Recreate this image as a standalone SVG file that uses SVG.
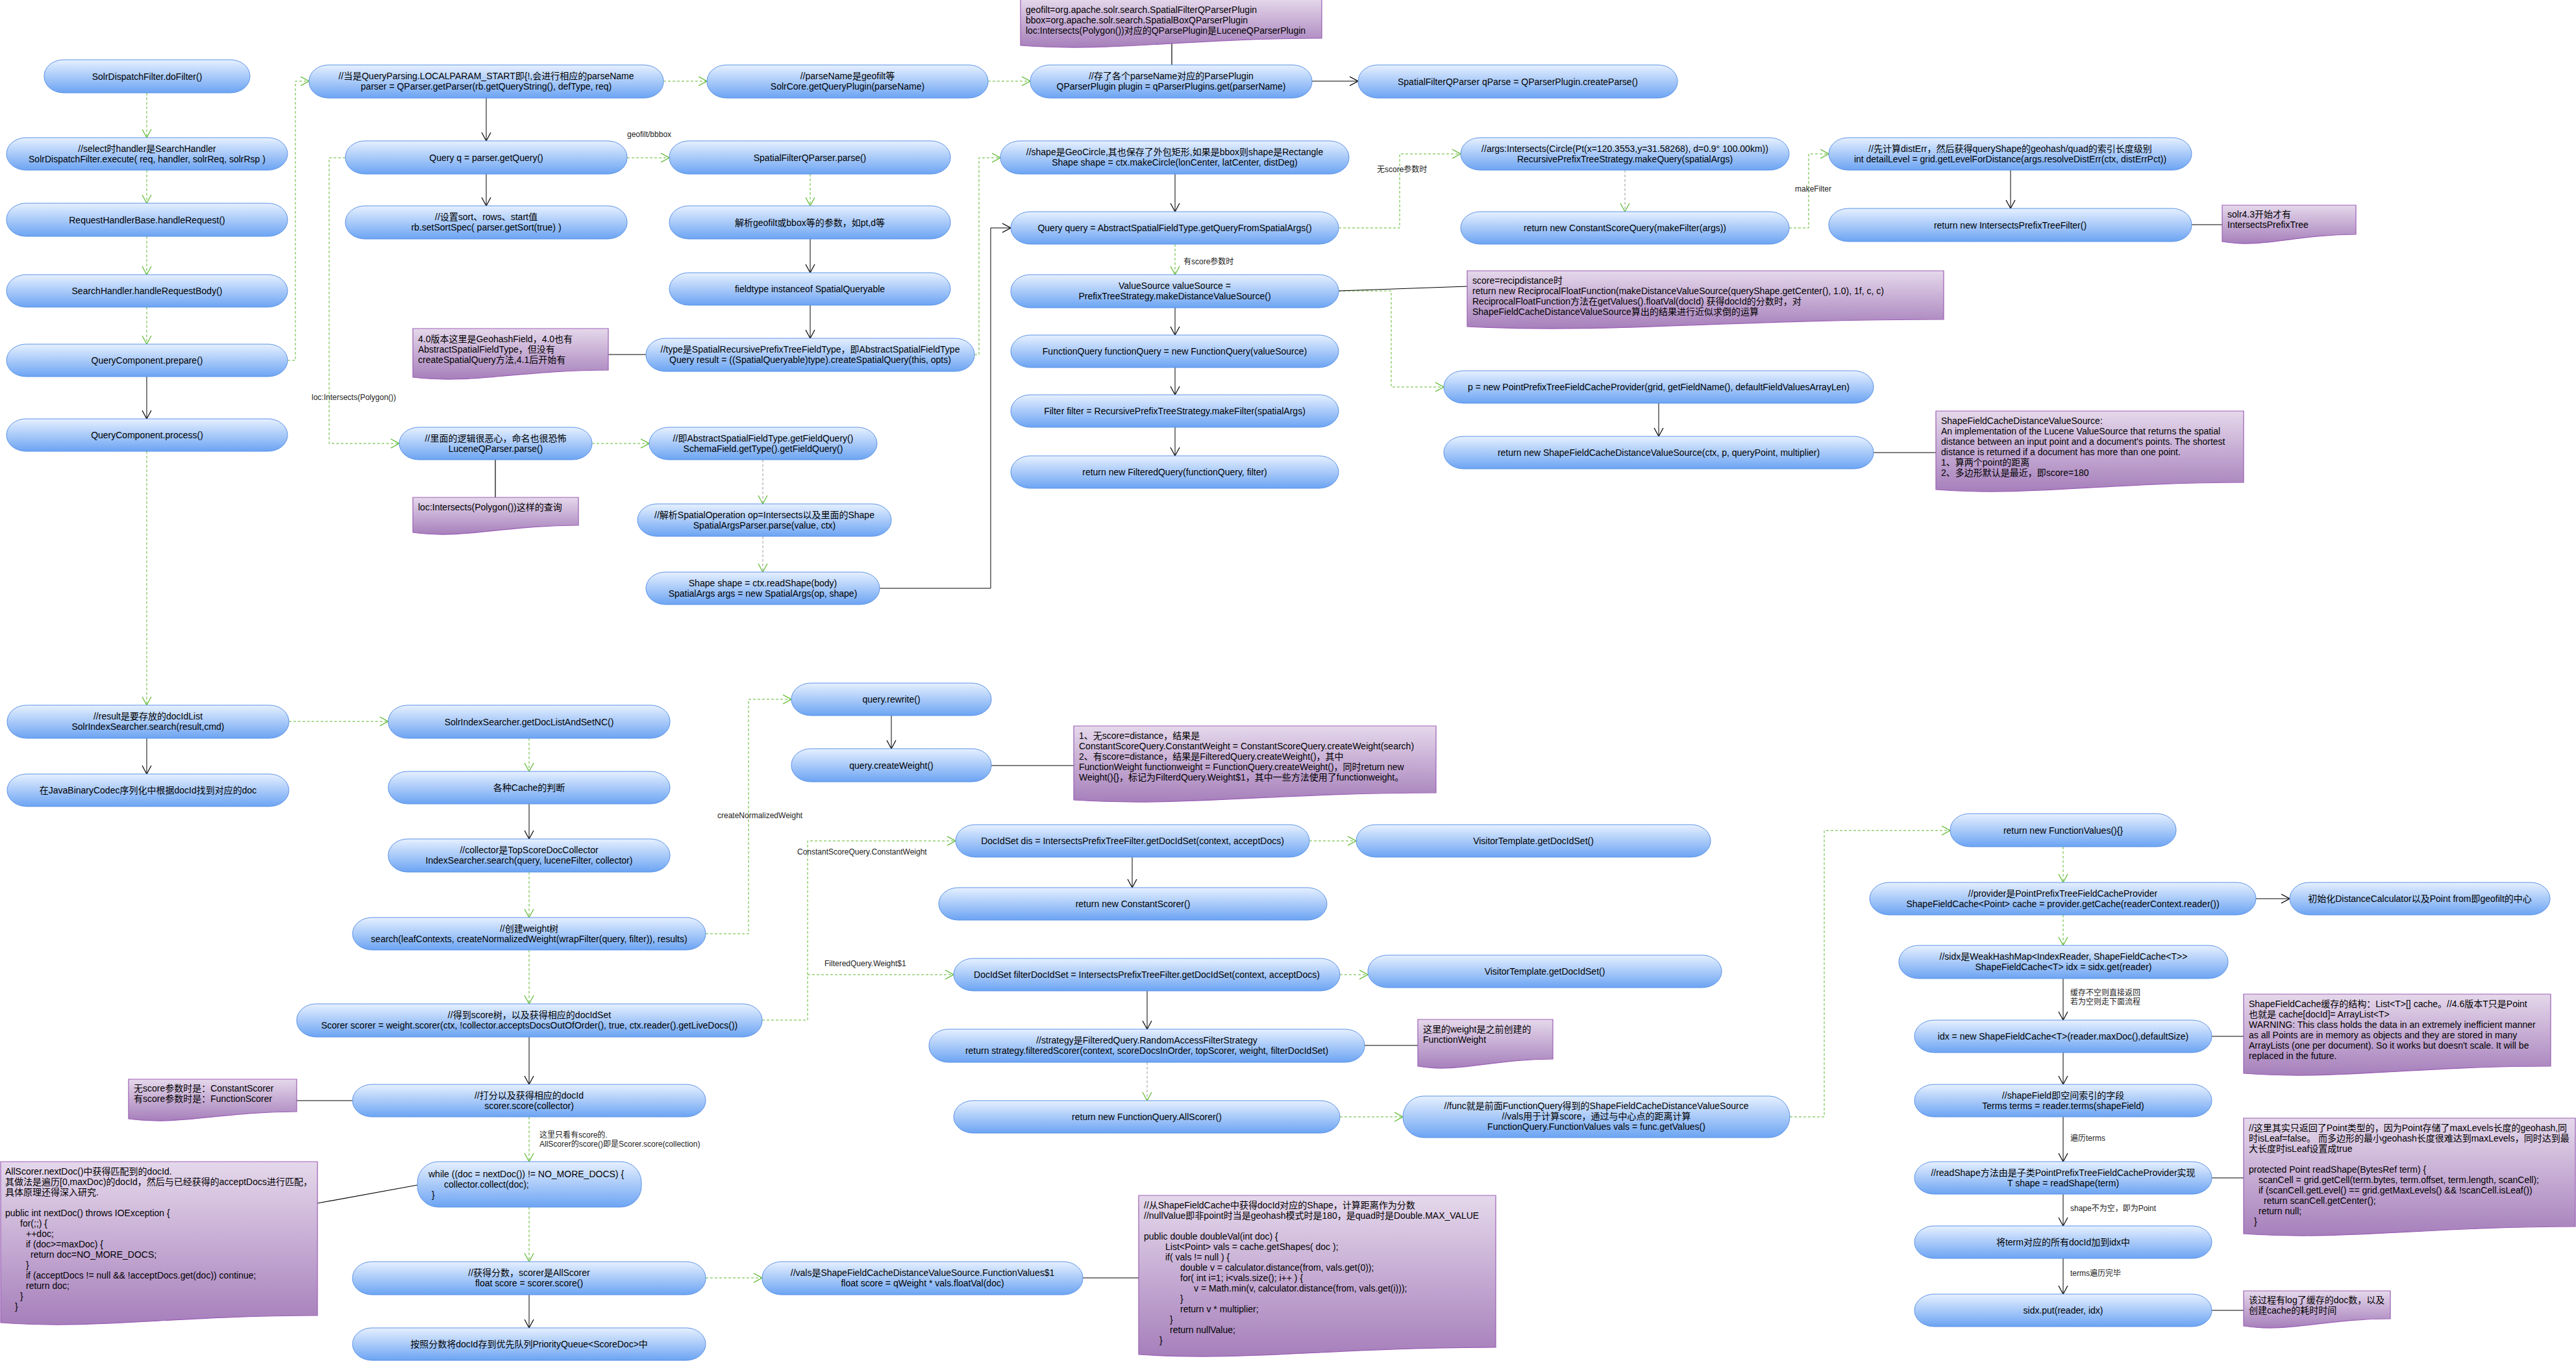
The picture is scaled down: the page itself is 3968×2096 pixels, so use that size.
<svg xmlns="http://www.w3.org/2000/svg" width="3968" height="2096" viewBox="0 0 3968 2096">
<defs>
<linearGradient id="gn" x1="0" y1="0" x2="0" y2="1"><stop offset="0" stop-color="#e6f0ff"/><stop offset="1" stop-color="#6ca4f3"/></linearGradient>
<linearGradient id="gm" x1="0" y1="0" x2="0" y2="1"><stop offset="0" stop-color="#e5d8eb"/><stop offset="1" stop-color="#a67fbb"/></linearGradient>
<marker id="ag" viewBox="0 0 14 16" refX="13" refY="8" markerWidth="14" markerHeight="16" orient="auto" markerUnits="userSpaceOnUse"><path d="M0,1 L13,8 L0,15" fill="none" stroke="#5cb82c" stroke-width="1.2"/></marker>
<marker id="ab" viewBox="0 0 14 16" refX="13" refY="8" markerWidth="14" markerHeight="16" orient="auto" markerUnits="userSpaceOnUse"><path d="M0,1 L13,8 L0,15" fill="none" stroke="#000" stroke-width="1.2"/></marker>
<style>
.n{fill:url(#gn);stroke:#5b92e6;stroke-width:1}
.m{fill:url(#gm);stroke:#9b5fb5;stroke-width:1.2}
text{font-family:"Liberation Sans","Noto Sans CJK SC",sans-serif;font-size:14px;fill:#000}
.c{text-anchor:middle}
.lbl{font-size:12px;fill:#222}
.g{fill:none;stroke:#5cb82c;stroke-width:1;stroke-dasharray:4 3;marker-end:url(#ag)}
.gr{fill:none;stroke:#999;stroke-width:1;stroke-dasharray:4 3;marker-end:url(#ag)}
.b{fill:none;stroke:#000;stroke-width:1;marker-end:url(#ab)}
.l{fill:none;stroke:#000;stroke-width:1.2}
</style>
</defs>
<rect width="3968" height="2096" fill="#fff"/>

<g id="connectors">
<path class="g" d="M226,143 V212"/>
<path class="g" d="M226,262 V313"/>
<path class="g" d="M226,364 V423"/>
<path class="g" d="M226,473 V530"/>
<path class="g" d="M443,555 H455 V125 H476"/>
<path class="g" d="M226,695 V1086"/>
<path class="g" d="M532,243 H507 V683 H615"/>
<path class="g" d="M1022,125 H1089"/>
<path class="g" d="M1522,125 H1587"/>
<path class="g" d="M966,243 H1031"/>
<path class="g" d="M1248,268 V317"/>
<path class="g" d="M1501,546 H1508 V243 H1541"/>
<path class="g" d="M912,683 H1000"/>
<path class="g" d="M1810,376 V423"/>
<path class="g" d="M2062,351 H2156 V237 H2250"/>
<path class="g" d="M2756,351 H2786 V237 H2817"/>
<path class="g" d="M2062,448 H2143 V596 H2224"/>
<path class="g" d="M445,1111 H598"/>
<path class="g" d="M815,1137 V1188"/>
<path class="g" d="M815,1343 V1413"/>
<path class="g" d="M815,1463 V1546"/>
<path class="g" d="M815,1720 V1789"/>
<path class="g" d="M815,1859 V1943"/>
<path class="g" d="M1087,1438 H1153 V1077 H1219"/>
<path class="g" d="M1174,1571 H1244 V1295 H1472"/>
<path class="g" d="M1244,1501 H1469"/>
<path class="g" d="M2017,1295 H2089"/>
<path class="g" d="M2064,1501 H2107"/>
<path class="g" d="M2064,1720 H2161"/>
<path class="g" d="M2757,1720 H2810 V1279 H3004"/>
<path class="g" d="M1087,1968 H1174"/>
<path class="g" d="M3178,1304 V1359"/>
<path class="g" d="M3178,1409 V1456"/>
<path class="gr" d="M1175,708 V776"/>
<path class="gr" d="M1175,826 V881"/>
<path class="gr" d="M2503,262 V326"/>
<path class="gr" d="M1767,1636 V1695"/>
<path class="b" d="M226,580 V645"/>
<path class="b" d="M749,151 V217"/>
<path class="b" d="M749,268 V317"/>
<path class="b" d="M2021,125 H2092"/>
<path class="b" d="M1248,368 V420"/>
<path class="b" d="M1248,470 V521"/>
<path class="b" d="M1810,268 V326"/>
<path class="b" d="M1355,906 H1526 V351 H1557"/>
<path class="b" d="M1810,474 V516"/>
<path class="b" d="M1810,566 V608"/>
<path class="b" d="M1810,658 V702"/>
<path class="b" d="M3097,262 V321"/>
<path class="b" d="M2555,621 V672"/>
<path class="b" d="M226,1137 V1192"/>
<path class="b" d="M815,1238 V1292"/>
<path class="b" d="M815,1597 V1670"/>
<path class="b" d="M815,1994 V2045"/>
<path class="b" d="M1373,1102 V1153"/>
<path class="b" d="M1744,1320 V1367"/>
<path class="b" d="M1767,1526 V1585"/>
<path class="b" d="M3475,1384 H3527"/>
<path class="b" d="M3178,1507 V1571"/>
<path class="b" d="M3178,1621 V1670"/>
<path class="b" d="M3178,1720 V1789"/>
<path class="b" d="M3178,1839 V1888"/>
<path class="b" d="M3178,1938 V1993"/>
<path class="l" d="M1805,66 V100"/>
<path class="l" d="M937,546 H995"/>
<path class="l" d="M763,708 V766"/>
<path class="l" d="M2062,448 L2260,441"/>
<path class="l" d="M3376,346 H3423"/>
<path class="l" d="M2886,697 H2982"/>
<path class="l" d="M1527,1179 H1654"/>
<path class="l" d="M457,1695 H543"/>
<path class="l" d="M489,1853 L643,1825"/>
<path class="l" d="M2102,1610 H2184"/>
<path class="l" d="M1668,1968 H1754"/>
<path class="l" d="M3407,1596 H3456"/>
<path class="l" d="M3407,1814 H3456"/>
<path class="l" d="M3407,2018 H3456"/>
</g>

<g id="edge-labels">
<text class="lbl" x="966" y="211">geofilt/bbbox</text>
<text class="lbl" x="480" y="616">loc:Intersects(Polygon())</text>
<text class="lbl" x="1823" y="407">有score参数时</text>
<text class="lbl" x="2121" y="265">无score参数时</text>
<text class="lbl" x="2765" y="295">makeFilter</text>
<text class="lbl" x="1105" y="1260">createNormalizedWeight</text>
<text class="lbl" x="1228" y="1316">ConstantScoreQuery.ConstantWeight</text>
<text class="lbl" x="1270" y="1488">FilteredQuery.Weight$1</text>
<text class="lbl" x="831" y="1752">这里只看有score的.</text>
<text class="lbl" x="831" y="1766">AllScorer的score()即是Scorer.score(collection)</text>
<text class="lbl" x="3189" y="1533">缓存不空则直接返回</text>
<text class="lbl" x="3189" y="1547">若为空则走下面流程</text>
<text class="lbl" x="3189" y="1757">遍历terms</text>
<text class="lbl" x="3189" y="1865">shape不为空，即为Point</text>
<text class="lbl" x="3189" y="1965">terms遍历完毕</text>
</g>

<g id="n1"><rect class="n" x="68" y="92" width="317" height="51" rx="30" ry="25"/><text class="c" x="226.5" y="123">SolrDispatchFilter.doFilter()</text></g>
<g id="n2"><rect class="n" x="10" y="212" width="433" height="50" rx="30" ry="25"/><text class="c" x="226.5" y="234">//select时handler是SearchHandler</text><text class="c" x="226.5" y="250">SolrDispatchFilter.execute( req, handler, solrReq, solrRsp )</text></g>
<g id="n3"><rect class="n" x="10" y="313" width="433" height="51" rx="30" ry="25"/><text class="c" x="226.5" y="344">RequestHandlerBase.handleRequest()</text></g>
<g id="n4"><rect class="n" x="10" y="423" width="433" height="50" rx="30" ry="25"/><text class="c" x="226.5" y="453">SearchHandler.handleRequestBody()</text></g>
<g id="n5"><rect class="n" x="10" y="530" width="433" height="50" rx="30" ry="25"/><text class="c" x="226.5" y="560">QueryComponent.prepare()</text></g>
<g id="n6"><rect class="n" x="10" y="645" width="433" height="50" rx="30" ry="25"/><text class="c" x="226.5" y="675">QueryComponent.process()</text></g>
<g id="n7"><rect class="n" x="476" y="100" width="546" height="51" rx="30" ry="25"/><text class="c" x="749" y="122">//当是QueryParsing.LOCALPARAM_START即{!,会进行相应的parseName</text><text class="c" x="749" y="138">parser = QParser.getParser(rb.getQueryString(), defType, req)</text></g>
<g id="n8"><rect class="n" x="532" y="217" width="434" height="51" rx="30" ry="25"/><text class="c" x="749" y="248">Query q = parser.getQuery()</text></g>
<g id="n9"><rect class="n" x="532" y="317" width="434" height="51" rx="30" ry="25"/><text class="c" x="749" y="339">//设置sort、rows、start值</text><text class="c" x="749" y="355">rb.setSortSpec( parser.getSort(true) )</text></g>
<g id="n10"><rect class="n" x="1089" y="100" width="433" height="51" rx="30" ry="25"/><text class="c" x="1305.5" y="122">//parseName是geofilt等</text><text class="c" x="1305.5" y="138">SolrCore.getQueryPlugin(parseName)</text></g>
<g id="n11"><rect class="n" x="1587" y="100" width="434" height="51" rx="30" ry="25"/><text class="c" x="1804" y="122">//存了各个parseName对应的ParsePlugin</text><text class="c" x="1804" y="138">QParserPlugin plugin = qParserPlugins.get(parserName)</text></g>
<g id="n12"><rect class="n" x="2092" y="100" width="492" height="51" rx="30" ry="25"/><text class="c" x="2338" y="131">SpatialFilterQParser qParse = QParserPlugin.createParse()</text></g>
<g id="n13"><rect class="n" x="1031" y="217" width="433" height="51" rx="30" ry="25"/><text class="c" x="1247.5" y="248">SpatialFilterQParser.parse()</text></g>
<g id="n14"><rect class="n" x="1031" y="317" width="433" height="51" rx="30" ry="25"/><text class="c" x="1247.5" y="348">解析geofilt或bbox等的参数，如pt,d等</text></g>
<g id="n15"><rect class="n" x="1031" y="420" width="433" height="50" rx="30" ry="25"/><text class="c" x="1247.5" y="450">fieldtype instanceof SpatialQueryable</text></g>
<g id="n16"><rect class="n" x="995" y="521" width="506" height="51" rx="30" ry="25"/><text class="c" x="1248" y="543">//type是SpatialRecursivePrefixTreeFieldType，即AbstractSpatialFieldType</text><text class="c" x="1248" y="559">Query result = ((SpatialQueryable)type).createSpatialQuery(this, opts)</text></g>
<g id="n17"><rect class="n" x="615" y="658" width="297" height="50" rx="30" ry="25"/><text class="c" x="763.5" y="680">//里面的逻辑很恶心，命名也很恐怖</text><text class="c" x="763.5" y="696">LuceneQParser.parse()</text></g>
<g id="n18"><rect class="n" x="1000" y="658" width="351" height="50" rx="30" ry="25"/><text class="c" x="1175.5" y="680">//即AbstractSpatialFieldType.getFieldQuery()</text><text class="c" x="1175.5" y="696">SchemaField.getType().getFieldQuery()</text></g>
<g id="n19"><rect class="n" x="982" y="776" width="391" height="50" rx="30" ry="25"/><text class="c" x="1177.5" y="798">//解析SpatialOperation op=Intersects以及里面的Shape</text><text class="c" x="1177.5" y="814">SpatialArgsParser.parse(value, ctx)</text></g>
<g id="n20"><rect class="n" x="995" y="881" width="360" height="50" rx="30" ry="25"/><text class="c" x="1175" y="903">Shape shape = ctx.readShape(body)</text><text class="c" x="1175" y="919">SpatialArgs args = new SpatialArgs(op, shape)</text></g>
<g id="n21"><rect class="n" x="1541" y="217" width="537" height="51" rx="30" ry="25"/><text class="c" x="1809.5" y="239">//shape是GeoCircle,其也保存了外包矩形,如果是bbox则shape是Rectangle</text><text class="c" x="1809.5" y="255">Shape shape = ctx.makeCircle(lonCenter, latCenter, distDeg)</text></g>
<g id="n22"><rect class="n" x="1557" y="326" width="505" height="50" rx="30" ry="25"/><text class="c" x="1809.5" y="356">Query query = AbstractSpatialFieldType.getQueryFromSpatialArgs()</text></g>
<g id="n23"><rect class="n" x="1557" y="423" width="505" height="51" rx="30" ry="25"/><text class="c" x="1809.5" y="445">ValueSource valueSource =</text><text class="c" x="1809.5" y="461">PrefixTreeStrategy.makeDistanceValueSource()</text></g>
<g id="n24"><rect class="n" x="1557" y="516" width="505" height="50" rx="30" ry="25"/><text class="c" x="1809.5" y="546">FunctionQuery functionQuery = new FunctionQuery(valueSource)</text></g>
<g id="n25"><rect class="n" x="1557" y="608" width="505" height="50" rx="30" ry="25"/><text class="c" x="1809.5" y="638">Filter filter = RecursivePrefixTreeStrategy.makeFilter(spatialArgs)</text></g>
<g id="n26"><rect class="n" x="1557" y="702" width="505" height="50" rx="30" ry="25"/><text class="c" x="1809.5" y="732">return new FilteredQuery(functionQuery, filter)</text></g>
<g id="n27"><rect class="n" x="2250" y="212" width="506" height="50" rx="30" ry="25"/><text class="c" x="2503" y="234">//args:Intersects(Circle(Pt(x=120.3553,y=31.58268), d=0.9° 100.00km))</text><text class="c" x="2503" y="250">RecursivePrefixTreeStrategy.makeQuery(spatialArgs)</text></g>
<g id="n28"><rect class="n" x="2250" y="326" width="506" height="50" rx="30" ry="25"/><text class="c" x="2503" y="356">return new ConstantScoreQuery(makeFilter(args))</text></g>
<g id="n29"><rect class="n" x="2817" y="212" width="559" height="50" rx="30" ry="25"/><text class="c" x="3096.5" y="234">//先计算distErr，然后获得queryShape的geohash/quad的索引长度级别</text><text class="c" x="3096.5" y="250">int detailLevel = grid.getLevelForDistance(args.resolveDistErr(ctx, distErrPct))</text></g>
<g id="n30"><rect class="n" x="2817" y="321" width="559" height="51" rx="30" ry="25"/><text class="c" x="3096.5" y="352">return new IntersectsPrefixTreeFilter()</text></g>
<g id="n31"><rect class="n" x="2224" y="571" width="662" height="50" rx="30" ry="25"/><text class="c" x="2555" y="601">p = new PointPrefixTreeFieldCacheProvider(grid, getFieldName(), defaultFieldValuesArrayLen)</text></g>
<g id="n32"><rect class="n" x="2224" y="672" width="662" height="50" rx="30" ry="25"/><text class="c" x="2555" y="702">return new ShapeFieldCacheDistanceValueSource(ctx, p, queryPoint, multiplier)</text></g>
<g id="n33"><rect class="n" x="11" y="1086" width="434" height="51" rx="30" ry="25"/><text class="c" x="228" y="1108">//result是要存放的docIdList</text><text class="c" x="228" y="1124">SolrIndexSearcher.search(result,cmd)</text></g>
<g id="n34"><rect class="n" x="11" y="1192" width="434" height="50" rx="30" ry="25"/><text class="c" x="228" y="1222">在JavaBinaryCodec序列化中根据docId找到对应的doc</text></g>
<g id="n35"><rect class="n" x="598" y="1086" width="434" height="51" rx="30" ry="25"/><text class="c" x="815" y="1117">SolrIndexSearcher.getDocListAndSetNC()</text></g>
<g id="n36"><rect class="n" x="598" y="1188" width="434" height="50" rx="30" ry="25"/><text class="c" x="815" y="1218">各种Cache的判断</text></g>
<g id="n37"><rect class="n" x="598" y="1292" width="434" height="51" rx="30" ry="25"/><text class="c" x="815" y="1314">//collector是TopScoreDocCollector</text><text class="c" x="815" y="1330">IndexSearcher.search(query, luceneFilter, collector)</text></g>
<g id="n38"><rect class="n" x="543" y="1413" width="544" height="50" rx="30" ry="25"/><text class="c" x="815" y="1435">//创建weight树</text><text class="c" x="815" y="1451">search(leafContexts, createNormalizedWeight(wrapFilter(query, filter)), results)</text></g>
<g id="n39"><rect class="n" x="457" y="1546" width="717" height="51" rx="30" ry="25"/><text class="c" x="815.5" y="1568">//得到score树，以及获得相应的docIdSet</text><text class="c" x="815.5" y="1584">Scorer scorer = weight.scorer(ctx, !collector.acceptsDocsOutOfOrder(), true, ctx.reader().getLiveDocs())</text></g>
<g id="n40"><rect class="n" x="543" y="1670" width="544" height="50" rx="30" ry="25"/><text class="c" x="815" y="1692">//打分以及获得相应的docId</text><text class="c" x="815" y="1708">scorer.score(collector)</text></g>
<g id="n41"><rect class="n" x="643" y="1789" width="345" height="70" rx="32" ry="32"/><text x="660" y="1813">while ((doc = nextDoc()) != NO_MORE_DOCS) {</text><text x="684" y="1829">collector.collect(doc);</text><text x="665" y="1845">}</text></g>
<g id="n42"><rect class="n" x="543" y="1943" width="544" height="51" rx="30" ry="25"/><text class="c" x="815" y="1965">//获得分数，scorer是AllScorer</text><text class="c" x="815" y="1981">float score = scorer.score()</text></g>
<g id="n43"><rect class="n" x="543" y="2045" width="544" height="50" rx="30" ry="25"/><text class="c" x="815" y="2075">按照分数将docId存到优先队列PriorityQueue&lt;ScoreDoc&gt;中</text></g>
<g id="n44"><rect class="n" x="1219" y="1052" width="308" height="50" rx="30" ry="25"/><text class="c" x="1373" y="1082">query.rewrite()</text></g>
<g id="n45"><rect class="n" x="1219" y="1153" width="308" height="51" rx="30" ry="25"/><text class="c" x="1373" y="1184">query.createWeight()</text></g>
<g id="n46"><rect class="n" x="1472" y="1270" width="545" height="50" rx="30" ry="25"/><text class="c" x="1744.5" y="1300">DocIdSet dis = IntersectsPrefixTreeFilter.getDocIdSet(context, acceptDocs)</text></g>
<g id="n47"><rect class="n" x="1446" y="1367" width="598" height="50" rx="30" ry="25"/><text class="c" x="1745" y="1397">return new ConstantScorer()</text></g>
<g id="n48"><rect class="n" x="2089" y="1270" width="546" height="50" rx="30" ry="25"/><text class="c" x="2362" y="1300">VisitorTemplate.getDocIdSet()</text></g>
<g id="n49"><rect class="n" x="1469" y="1476" width="595" height="50" rx="30" ry="25"/><text class="c" x="1766.5" y="1506">DocIdSet filterDocIdSet = IntersectsPrefixTreeFilter.getDocIdSet(context, acceptDocs)</text></g>
<g id="n50"><rect class="n" x="1431" y="1585" width="671" height="51" rx="30" ry="25"/><text class="c" x="1766.5" y="1607">//strategy是FilteredQuery.RandomAccessFilterStrategy</text><text class="c" x="1766.5" y="1623">return strategy.filteredScorer(context, scoreDocsInOrder, topScorer, weight, filterDocIdSet)</text></g>
<g id="n51"><rect class="n" x="1469" y="1695" width="595" height="50" rx="30" ry="25"/><text class="c" x="1766.5" y="1725">return new FunctionQuery.AllScorer()</text></g>
<g id="n52"><rect class="n" x="2107" y="1471" width="545" height="50" rx="30" ry="25"/><text class="c" x="2379.5" y="1501">VisitorTemplate.getDocIdSet()</text></g>
<g id="n53"><rect class="n" x="2161" y="1688" width="596" height="64" rx="32" ry="32"/><text class="c" x="2459" y="1708">//func就是前面FunctionQuery得到的ShapeFieldCacheDistanceValueSource</text><text class="c" x="2459" y="1724">//vals用于计算score，通过与中心点的距离计算</text><text class="c" x="2459" y="1740">FunctionQuery.FunctionValues vals = func.getValues()</text></g>
<g id="n54"><rect class="n" x="1174" y="1943" width="494" height="51" rx="30" ry="25"/><text class="c" x="1421" y="1965">//vals是ShapeFieldCacheDistanceValueSource.FunctionValues$1</text><text class="c" x="1421" y="1981">float score = qWeight * vals.floatVal(doc)</text></g>
<g id="n55"><rect class="n" x="3004" y="1253" width="348" height="51" rx="30" ry="25"/><text class="c" x="3178" y="1284">return new FunctionValues(){}</text></g>
<g id="n56"><rect class="n" x="2880" y="1359" width="595" height="50" rx="30" ry="25"/><text class="c" x="3177.5" y="1381">//provider是PointPrefixTreeFieldCacheProvider</text><text class="c" x="3177.5" y="1397">ShapeFieldCache&lt;Point&gt; cache = provider.getCache(readerContext.reader())</text></g>
<g id="n57"><rect class="n" x="3527" y="1359" width="401" height="50" rx="30" ry="25"/><text class="c" x="3727.5" y="1389">初始化DistanceCalculator以及Point from即geofilt的中心</text></g>
<g id="n58"><rect class="n" x="2925" y="1456" width="507" height="51" rx="30" ry="25"/><text class="c" x="3178.5" y="1478">//sidx是WeakHashMap&lt;IndexReader, ShapeFieldCache&lt;T&gt;&gt;</text><text class="c" x="3178.5" y="1494">ShapeFieldCache&lt;T&gt; idx = sidx.get(reader)</text></g>
<g id="n59"><rect class="n" x="2949" y="1571" width="458" height="50" rx="30" ry="25"/><text class="c" x="3178" y="1601">idx = new ShapeFieldCache&lt;T&gt;(reader.maxDoc(),defaultSize)</text></g>
<g id="n60"><rect class="n" x="2949" y="1670" width="458" height="50" rx="30" ry="25"/><text class="c" x="3178" y="1692">//shapeField即空间索引的字段</text><text class="c" x="3178" y="1708">Terms terms = reader.terms(shapeField)</text></g>
<g id="n61"><rect class="n" x="2949" y="1789" width="458" height="50" rx="30" ry="25"/><text class="c" x="3178" y="1811">//readShape方法由是子类PointPrefixTreeFieldCacheProvider实现</text><text class="c" x="3178" y="1827">T shape = readShape(term)</text></g>
<g id="n62"><rect class="n" x="2949" y="1888" width="458" height="50" rx="30" ry="25"/><text class="c" x="3178" y="1918">将term对应的所有docId加到idx中</text></g>
<g id="n63"><rect class="n" x="2949" y="1993" width="458" height="50" rx="30" ry="25"/><text class="c" x="3178" y="2023">sidx.put(reader, idx)</text></g>

<g id="m1"><path class="m" d="M1572,-2 H2036 V59 C1827,59 1711,81 1572,70 Z"/><text x="1580" y="20">geofilt=org.apache.solr.search.SpatialFilterQParserPlugin</text><text x="1580" y="36">bbox=org.apache.solr.search.SpatialBoxQParserPlugin</text><text x="1580" y="52">loc:Intersects(Polygon())对应的QParsePlugin是LuceneQParserPlugin</text></g>
<g id="m2"><path class="m" d="M636,506 H937 V570 C802,570 726,592 636,581 Z"/><text x="644" y="527">4.0版本这里是GeohashField，4.0也有</text><text x="644" y="543">AbstractSpatialFieldType，但没有</text><text x="644" y="559">createSpatialQuery方法,4.1后开始有</text></g>
<g id="m3"><path class="m" d="M636,766 H891 V809 C776,809 713,831 636,820 Z"/><text x="644" y="786">loc:Intersects(Polygon())这样的查询</text></g>
<g id="m4"><path class="m" d="M2260,417 H2994 V492 C2664,492 2480,514 2260,503 Z"/><text x="2268" y="437">score=recipdistance时</text><text x="2268" y="453">return new ReciprocalFloatFunction(makeDistanceValueSource(queryShape.getCenter(), 1.0), 1f, c, c)</text><text x="2268" y="469">ReciprocalFloatFunction方法在getValues().floatVal(docId) 获得docId的分数时，对</text><text x="2268" y="485">ShapeFieldCacheDistanceValueSource算出的结果进行近似求倒的运算</text></g>
<g id="m5"><path class="m" d="M3423,316 H3629 V361 C3536,361 3485,383 3423,372 Z"/><text x="3431" y="335">solr4.3开始才有</text><text x="3431" y="351">IntersectsPrefixTree</text></g>
<g id="m6"><path class="m" d="M2982,633 H3456 V743 C3243,743 3124,765 2982,754 Z"/><text x="2990" y="653">ShapeFieldCacheDistanceValueSource:</text><text x="2990" y="669">An implementation of the Lucene ValueSource that returns the spatial</text><text x="2990" y="685">distance between an input point and a document's points. The shortest</text><text x="2990" y="701">distance is returned if a document has more than one point.</text><text x="2990" y="717">1、算两个point的距离</text><text x="2990" y="733">2、多边形默认是最近，即score=180</text></g>
<g id="m7"><path class="m" d="M1654,1118 H2212 V1221 C1961,1221 1821,1243 1654,1232 Z"/><text x="1662" y="1138">1、无score=distance，结果是</text><text x="1662" y="1154">ConstantScoreQuery.ConstantWeight = ConstantScoreQuery.createWeight(search)</text><text x="1662" y="1170">2、有score=distance，结果是FilteredQuery.createWeight()，其中</text><text x="1662" y="1186">FunctionWeight functionweight = FunctionQuery.createWeight()，同时return new</text><text x="1662" y="1202">Weight(){}，标记为FilterdQuery.Weight$1，其中一些方法使用了functionweight。</text></g>
<g id="m8"><path class="m" d="M198,1662 H457 V1712 C340,1712 276,1734 198,1723 Z"/><text x="206" y="1681">无score参数时是：ConstantScorer</text><text x="206" y="1697">有score参数时是：FunctionScorer</text></g>
<g id="m9"><path class="m" d="M1,1789 H489 V2026 C269,2026 147,2048 1,2037 Z"/><text x="8" y="1809">AllScorer.nextDoc()中获得匹配到的docId.</text><text x="8" y="1825">其做法是遍历[0,maxDoc)的docId，然后与已经获得的acceptDocs进行匹配，</text><text x="8" y="1841">具体原理还得深入研究.</text><text x="8" y="1873">public int nextDoc() throws IOException {</text><text x="31" y="1889">for(;;) {</text><text x="40" y="1905">++doc;</text><text x="40" y="1921">if (doc&gt;=maxDoc) {</text><text x="47" y="1937">return doc=NO_MORE_DOCS;</text><text x="40" y="1953">}</text><text x="40" y="1969">if (acceptDocs != null &amp;&amp; !acceptDocs.get(doc)) continue;</text><text x="40" y="1985">return doc;</text><text x="31" y="2001">}</text><text x="23" y="2017">}</text></g>
<g id="m10"><path class="m" d="M2184,1570 H2392 V1631 C2298,1631 2246,1653 2184,1642 Z"/><text x="2192" y="1590">这里的weight是之前创建的</text><text x="2192" y="1606">FunctionWeight</text></g>
<g id="m11"><path class="m" d="M1754,1841 H2304 V2075 C2057,2075 1919,2097 1754,2086 Z"/><text x="1762" y="1861">//从ShapeFieldCache中获得docId对应的Shape，计算距离作为分数</text><text x="1762" y="1877">//nullValue即非point时当是geohash模式时是180，是quad时是Double.MAX_VALUE</text><text x="1762" y="1909">public double doubleVal(int doc) {</text><text x="1795" y="1925">List&lt;Point&gt; vals = cache.getShapes( doc );</text><text x="1795" y="1941">if( vals != null ) {</text><text x="1818" y="1957">double v = calculator.distance(from, vals.get(0));</text><text x="1818" y="1973">for( int i=1; i&lt;vals.size(); i++ ) {</text><text x="1839" y="1989">v = Math.min(v, calculator.distance(from, vals.get(i)));</text><text x="1818" y="2005">}</text><text x="1818" y="2021">return v * multiplier;</text><text x="1802" y="2037">}</text><text x="1802" y="2053">return nullValue;</text><text x="1786" y="2069">}</text></g>
<g id="m12"><path class="m" d="M3456,1531 H3929 V1642 C3716,1642 3598,1664 3456,1653 Z"/><text x="3464" y="1551">ShapeFieldCache缓存的结构：List&lt;T&gt;[] cache。//4.6版本T只是Point</text><text x="3464" y="1567">也就是 cache[docId]= ArrayList&lt;T&gt;</text><text x="3464" y="1583">WARNING: This class holds the data in an extremely inefficient manner</text><text x="3464" y="1599">as all Points are in memory as objects and they are stored in many</text><text x="3464" y="1615">ArrayLists (one per document).  So it works but doesn't scale.  It will be</text><text x="3464" y="1631">replaced in the future.</text></g>
<g id="m13"><path class="m" d="M3456,1722 H3967 V1889 C3737,1889 3609,1911 3456,1900 Z"/><text x="3464" y="1742">//这里其实只返回了Point类型的，因为Point存储了maxLevels长度的geohash,同</text><text x="3464" y="1758">时isLeaf=false。 而多边形的最小geohash长度很难达到maxLevels，同时达到最</text><text x="3464" y="1774">大长度时isLeaf设置成true</text><text x="3464" y="1806">protected Point readShape(BytesRef term) {</text><text x="3479" y="1822">scanCell = grid.getCell(term.bytes, term.offset, term.length, scanCell);</text><text x="3479" y="1838">if (scanCell.getLevel() == grid.getMaxLevels() &amp;&amp; !scanCell.isLeaf())</text><text x="3487" y="1854">return scanCell.getCenter();</text><text x="3479" y="1870">return null;</text><text x="3472" y="1886">}</text></g>
<g id="m14"><path class="m" d="M3456,1988 H3682 V2031 C3580,2031 3524,2053 3456,2042 Z"/><text x="3464" y="2007">该过程有log了缓存的doc数，以及</text><text x="3464" y="2023">创建cache的耗时时间</text></g>
</svg>
